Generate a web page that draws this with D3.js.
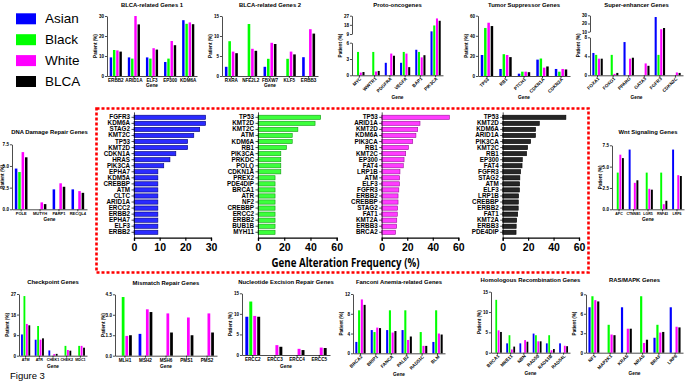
<!DOCTYPE html>
<html>
<head>
<meta charset="utf-8">
<script src="https://cdn.jsdelivr.net/npm/d3@7"></script>
<style>
body { margin: 0; background: #fff; }
svg { display: block; font-family: "Liberation Sans", Arial, sans-serif; }
</style>
</head>
<body>
<svg id="fig" width="685" height="382"></svg>
<script>
// series
var groups = ["Asian", "Black", "White", "BLCA"]
var groupColors = ["#0000ff", "#00ff00", "#ff00ff", "#000000"]

// small panels: genes + one row per group (Asian, Black, White, BLCA)
var blca1Genes = ["ERBB2", "ARID1A", "ELF3", "EP300", "KDM6A"]
var blca1Values = [[9.3, 9.3, 9.3, 7.0, 27.9], [13.0, 8.7, 8.7, 8.7, 26.1], [12.8, 30.0, 13.9, 17.5, 26.8], [12.2, 25.8, 13.2, 15.4, 25.9]]

var blca2Genes = ["RXRA", "NFE2L2", "FBXW7", "KLF5", "ERBB3"]
var blca2Values = [[2.3, 0, 2.3, 0, 4.7], [8.7, 13.0, 4.3, 4.3, 0], [6.1, 6.8, 8.3, 6.1, 11.7], [5.7, 6.3, 8.0, 5.4, 10.6]]

var protoGenes = ["MYC", "WWTR1", "PDGFRA", "VEGFA", "BAP1", "PIK3CA"]
var protoValues = [[0, 0, 2.3, 2.3, 4.7, 11.6], [4.3, 4.3, 0, 4.3, 4.3, 17.4], [0.5, 0.7, 4.0, 4.0, 3.3, 24.3], [0.6, 0.8, 3.6, 1.5, 3.7, 22.0]]

var tumorGenes = ["TP53", "RB1", "PTCH1", "CDKN1A", "CDKN2A"]
var tumorValues = [[20.9, 7.0, 2.3, 16.3, 7.0], [47.8, 21.7, 4.3, 17.4, 4.3], [53.0, 20.9, 4.3, 8.3, 7.0], [49.7, 18.8, 3.8, 9.5, 6.5]]

var superGenes = ["FOXA1", "FOXO1", "PPARG", "GATA3", "FGFR3", "CDKN2C"]
var superValues = [[4.7, 0, 7.0, 0, 27.9, 0], [4.3, 4.3, 0, 0, 4.3, 0], [3.5, 0.3, 3.5, 2.5, 13.0, 0.6], [3.5, 0.5, 3.7, 2.0, 14.5, 0.5]]

var dnaGenes = ["POLE", "MUTYH", "PARP1", "RECQL4"]
var dnaValues = [[4.7, 0, 2.3, 2.3], [4.3, 0, 0, 0], [6.6, 0.8, 3.0, 2.1], [6.0, 0.6, 2.6, 1.9]]

var wntGenes = ["APC", "CTNNB1", "LGR5", "RNF43", "LRP6"]
var wntValues = [[0, 7.0, 0, 0, 7.0], [4.3, 0, 4.3, 4.3, 0], [6.4, 3.1, 2.4, 0.6, 4.0], [6.0, 3.4, 2.3, 1.0, 3.9]]

var checkGenes = ["ATM", "ATR", "CHEK1", "CHEK2", "MDC1"]
var checkValues = [[9.3, 7.0, 2.3, 0, 0], [26.1, 13.0, 0, 4.3, 4.3], [13.9, 7.0, 0.7, 2.5, 4.3], [13.3, 7.6, 0.8, 2.2, 3.5]]

var mmrGenes = ["MLH1", "MSH2", "MSH6", "PMS1", "PMS2"]
var mmrValues = [[0, 1.6, 0, 0, 0], [4.3, 0, 0, 0, 0], [1.45, 3.4, 3.1, 2.8, 3.1], [1.5, 3.2, 1.7, 1.5, 1.7]]

var nerGenes = ["ERCC2", "ERCC3", "ERCC4", "ERCC5"]
var nerValues = [[9.3, 0, 0, 0], [13.0, 0, 0, 0], [9.5, 2.4, 1.5, 1.8], [9.3, 2.0, 1.2, 1.7]]

var fancGenes = ["BRCA2", "BRIP1", "FANCA", "PALB2", "RAD51C", "BLM"]
var fancValues = [[2.3, 4.7, 4.7, 4.7, 0, 2.3], [8.7, 4.3, 8.7, 8.7, 4.3, 8.7], [10.9, 5.2, 4.2, 2.7, 1.5, 4.0], [9.8, 5.1, 4.5, 3.4, 1.5, 3.8]]

var hrGenes = ["BRCA1", "MRE11", "NBN", "RAD50", "RAD51B", "RAD54L"]
var hrValues = [[0, 2.3, 2.3, 4.7, 2.3, 2.3], [13.0, 4.3, 0, 4.3, 4.3, 0], [5.5, 0.8, 3.1, 2.8, 0.6, 1.7], [5.1, 1.5, 2.7, 2.8, 0.9, 1.6]]

var rasGenes = ["NF1", "MAP2K1", "KRAS", "NRAS", "BRAF", "LRP6"]
var rasValues = [[7.0, 0, 7.0, 0, 2.3, 7.0], [8.7, 4.3, 0, 8.7, 4.3, 0], [8.1, 2.8, 3.7, 1.5, 3.1, 4.0], [7.9, 2.7, 3.7, 2.0, 3.2, 3.9]]

// center: top 20 altered genes per group
var asianTopGenes = ["FGFR3", "KDM6A", "STAG2", "KMT2C", "TP53", "KMT2D", "CDKN1A", "HRAS", "PIK3CA", "EPHA7", "KDM5A", "CREBBP", "ATM", "CLTC", "ARID1A", "ERCC2", "ERBB2", "EPHA7", "ELF3", "ERBB2"]
var asianTopValues = [27.9, 27.9, 25.6, 23.3, 20.9, 20.9, 16.3, 14.0, 11.6, 9.3, 9.3, 9.3, 9.3, 9.3, 9.3, 9.3, 9.3, 9.3, 9.3, 9.3]

var blackTopGenes = ["TP53", "KMT2D", "KMT2C", "ATM", "KDM6A", "RB1", "PIK3CA", "PRKDC", "POLQ", "CDKN1A", "PREX2", "PDE4DIP", "BRCA1", "ATR", "NF2", "CREBBP", "ERCC2", "ERBB2", "BUB1B", "MYH11"]
var blackTopValues = [47.8, 43.5, 30.4, 26.1, 26.1, 21.7, 17.4, 17.4, 17.4, 17.4, 13.0, 13.0, 13.0, 13.0, 13.0, 13.0, 13.0, 13.0, 13.0, 13.0]

var whiteTopGenes = ["TP53", "ARID1A", "KMT2D", "KDM6A", "PIK3CA", "RB1", "KMT2C", "EP300", "FAT4", "LRP1B", "ATM", "ELF3", "FGFR3", "ERBB2", "CREBBP", "STAG2", "FAT1", "KMT2A", "ERBB3", "BRCA2"]
var whiteTopValues = [53.0, 30.0, 28.2, 26.8, 24.3, 20.9, 18.8, 17.5, 16.9, 14.3, 14.0, 13.9, 13.4, 12.8, 12.8, 12.4, 12.2, 11.8, 11.7, 10.8]

var blcaTopGenes = ["TP53", "KMT2D", "KDM6A", "ARID1A", "PIK3CA", "KMT2C", "RB1", "EP300", "FAT4", "FGFR3", "STAG2", "ATM", "ELF3", "LRP1B", "CREBBP", "ERBB2", "FAT1", "KMT2A", "ERBB3", "PDE4DIP"]
var blcaTopValues = [49.7, 28.8, 25.9, 25.8, 22.0, 19.6, 18.8, 15.4, 15.2, 14.1, 13.5, 13.3, 13.2, 12.5, 12.3, 12.2, 11.8, 11.0, 10.6, 10.5]

var svg = d3.select("#fig")

function styleAxis(sel, size) {
    sel.attr("font-size", size).attr("font-family", null).attr("font-weight", "bold")
    sel.selectAll("path, line").attr("stroke-width", 0.7)
}

function smallPanel(p) {
    var g = svg.append("g")
    var x = d3.scaleBand().domain(d3.range(p.genes.length))
        .range([p.x0, p.x1]).paddingInner(0.33).paddingOuter(0.15)
    var xs = d3.scaleBand().domain(d3.range(4))
        .range([0, x.bandwidth()]).paddingInner(0.25)
    var y = d3.scaleLinear().domain(p.domain).range(p.range)

    var cells = []
    p.genes.forEach(function(gene, i) {
        p.values.forEach(function(row, k) {
            if (row[i] > 0) cells.push({ i: i, k: k, v: row[i] })
        })
    })
    g.selectAll("rect").data(cells).join("rect")
        .attr("x", function(d) { return x(d.i) + xs(d.k) })
        .attr("width", xs.bandwidth())
        .attr("y", function(d) { return y(d.v) })
        .attr("height", function(d) { return y(0) - y(d.v) })
        .attr("fill", function(d) { return groupColors[d.k] })

    // y axis, split in two when the scale is broken
    var segs = p.segs || [[p.domain[0], p.domain[p.domain.length - 1]]]
    segs.forEach(function(s, j) {
        var ys = d3.scaleLinear().domain(s).range([y(s[0]), y(s[1])])
        g.append("g").attr("transform", "translate(" + p.x0 + ",0)")
            .call(d3.axisLeft(ys).tickValues(p.ticks[j]).tickSize(2).tickSizeOuter(0)
                .tickPadding(1).tickFormat(p.fmt || d3.format("d")))
            .call(styleAxis, 4.6)
    })

    var xa = g.append("g").attr("transform", "translate(0," + y(0) + ")")
        .call(d3.axisBottom(x).tickSize(2).tickSizeOuter(0).tickPadding(1)
            .tickFormat(function(i) { return p.genes[i] }))
        .call(styleAxis, p.labelSize || 4.6)
    if (p.rotate) {
        xa.selectAll("text")
            .attr("text-anchor", "end")
            .attr("x", -1).attr("y", 2).attr("dy", "0.5em")
            .attr("transform", "rotate(-45)")
    }

    g.append("text").attr("x", (p.x0 + p.x1) / 2).attr("y", p.titleY)
        .attr("text-anchor", "middle").attr("font-size", 5.9).attr("font-weight", "bold")
        .text(p.title)
    g.append("text").attr("x", (p.x0 + p.x1) / 2).attr("y", p.geneY)
        .attr("text-anchor", "middle").attr("font-size", 4.8).attr("font-weight", "bold")
        .text("Gene")
    var yMid = (p.range[0] + p.range[p.range.length - 1]) / 2
    g.append("text")
        .attr("transform", "translate(" + Math.max(p.x0 - 10, 4) + "," + yMid + ") rotate(-90)")
        .attr("text-anchor", "middle").attr("font-size", 4.6).attr("font-weight", "bold")
        .text("Patient (%)")
}

function centerPanel(p) {
    var g = svg.append("g")
    var y = d3.scaleBand().domain(d3.range(p.genes.length))
        .range([111.9, 237.7]).paddingInner(0.3).paddingOuter(0.545)
    var x = d3.scaleLinear().domain([0, p.max]).range([p.x0, p.x1])
    g.selectAll("rect").data(p.values).join("rect")
        .attr("x", x(0))
        .attr("y", function(d, i) { return y(i) })
        .attr("width", function(d) { return x(d) - x(0) })
        .attr("height", y.bandwidth())
        .attr("fill", p.fill).attr("stroke", p.stroke).attr("stroke-width", 0.6)
    g.append("g").attr("transform", "translate(" + p.x0 + ",0)")
        .call(d3.axisLeft(y).tickSize(2.5).tickSizeOuter(0).tickPadding(1.5)
            .tickFormat(function(i) { return p.genes[i] }))
        .call(styleAxis, 6.3)
    g.append("g").attr("transform", "translate(0,237.7)")
        .call(d3.axisBottom(x).tickValues(p.ticks).tickSize(3).tickSizeOuter(3).tickPadding(3))
        .call(styleAxis, 10.5)
        .selectAll("path, line").attr("stroke-width", 1.2)
}

// legend
groups.forEach(function(name, k) {
    var yy = 13.3 + k * 20.9
    svg.append("rect").attr("x", 16).attr("y", yy).attr("width", 20).attr("height", 11)
        .attr("fill", groupColors[k])
    svg.append("text").attr("x", 45).attr("y", yy + 10).attr("font-size", 13.5).text(name)
})

smallPanel({ title: "BLCA-related Genes 1", genes: blca1Genes, values: blca1Values, x0: 107, x1: 197,
    domain: [0, 30], range: [76, 16], ticks: [[0, 10, 20, 30]], titleY: 7, geneY: 87 })
smallPanel({ title: "BLCA-related Genes 2", genes: blca2Genes, values: blca2Values, x0: 222, x1: 318,
    domain: [0, 15], range: [76, 16], ticks: [[0, 5, 10, 15]], titleY: 7, geneY: 87 })
smallPanel({ title: "Proto-oncogenes", genes: protoGenes, values: protoValues, x0: 352, x1: 443,
    domain: [0, 6, 9, 27], range: [75.3, 42.7, 34, 15.7], segs: [[0, 6], [9, 27]],
    ticks: [[0, 3, 6], [9, 18, 27]], rotate: true, titleY: 7, geneY: 99 })
smallPanel({ title: "Tumor Suppressor Genes", genes: tumorGenes, values: tumorValues, x0: 478, x1: 570,
    domain: [0, 60], range: [76, 15.7], ticks: [[0, 20, 40, 60]], rotate: true, titleY: 7, geneY: 99 })
smallPanel({ title: "Super-enhancer Genes", genes: superGenes, values: superValues, x0: 590, x1: 683,
    domain: [0, 8, 10, 30], range: [75.3, 37.3, 31.7, 15.3], segs: [[0, 8], [10, 30]],
    ticks: [[0, 4, 8], [10, 20, 30]], rotate: true, titleY: 7, geneY: 99 })
smallPanel({ title: "DNA Damage Repair Genes", genes: dnaGenes, values: dnaValues, x0: 12, x1: 87,
    domain: [0, 7.5], range: [209.3, 144.3], ticks: [[0, 2.5, 5, 7.5]], fmt: d3.format(".1f"),
    labelSize: 4.0, titleY: 134, geneY: 221 })
smallPanel({ title: "Wnt Signaling Genes", genes: wntGenes, values: wntValues, x0: 612, x1: 684,
    domain: [0, 7.5], range: [209.3, 145.3], ticks: [[0, 2.5, 5, 7.5]], fmt: d3.format(".1f"),
    labelSize: 3.5, titleY: 134, geneY: 221 })
smallPanel({ title: "Checkpoint Genes", genes: checkGenes, values: checkValues, x0: 19, x1: 87,
    domain: [0, 27], range: [355.7, 294], ticks: [[0, 9, 18, 27]], labelSize: 3.7, titleY: 284, geneY: 368 })
smallPanel({ title: "Mismatch Repair Genes", genes: mmrGenes, values: mmrValues, x0: 115, x1: 217,
    domain: [0, 4.5], range: [355.7, 294.3], ticks: [[0, 1.5, 3, 4.5]], fmt: d3.format(".1f"),
    titleY: 285, geneY: 368 })
smallPanel({ title: "Nucleotide Excision Repair Genes", genes: nerGenes, values: nerValues, x0: 242, x1: 330,
    domain: [0, 15], range: [355, 293.3], ticks: [[0, 5, 10, 15]], titleY: 284, geneY: 368 })
smallPanel({ title: "Fanconi Anemia-related Genes", genes: fancGenes, values: fancValues, x0: 353, x1: 445,
    domain: [0, 12], range: [353.3, 294], ticks: [[0, 4, 8, 12]], rotate: true, titleY: 284, geneY: 376 })
smallPanel({ title: "Homologous Recombination Genes", genes: hrGenes, values: hrValues, x0: 491, x1: 570,
    domain: [0, 15], range: [352.7, 291.7], ticks: [[0, 5, 10, 15]], rotate: true, titleY: 282, geneY: 375 })
smallPanel({ title: "RAS/MAPK Genes", genes: rasGenes, values: rasValues, x0: 586, x1: 683,
    domain: [0, 9], range: [352.7, 294.3], ticks: [[0, 3, 6, 9]], rotate: true, titleY: 282, geneY: 375 })

// center box
svg.append("rect").attr("x", 96.5).attr("y", 108.5).attr("width", 492).attr("height", 164)
    .attr("fill", "none").attr("stroke", "#ff0000").attr("stroke-width", 2.6)
    .attr("stroke-dasharray", "3,2")

centerPanel({ genes: asianTopGenes, values: asianTopValues, x0: 134, x1: 211, max: 30, ticks: [0, 10, 20, 30],
    fill: "#2b2bff", stroke: "#00007a" })
centerPanel({ genes: blackTopGenes, values: blackTopValues, x0: 258, x1: 336.7, max: 60, ticks: [0, 20, 40, 60],
    fill: "#3cff3c", stroke: "#159915" })
centerPanel({ genes: whiteTopGenes, values: whiteTopValues, x0: 381.7, x1: 458.3, max: 60, ticks: [0, 20, 40, 60],
    fill: "#ff3cff", stroke: "#991599" })
centerPanel({ genes: blcaTopGenes, values: blcaTopValues, x0: 502.7, x1: 579, max: 60, ticks: [0, 20, 40, 60],
    fill: "#262626", stroke: "#000000" })

svg.append("text").attr("x", 345.5).attr("y", 267).attr("text-anchor", "middle")
    .attr("font-family", "'Open Sans', sans-serif").attr("font-weight", "bold").attr("font-size", 12)
    .attr("textLength", 148).attr("lengthAdjust", "spacingAndGlyphs")
    .text("Gene Alteration Frequency (%)")

svg.append("text").attr("x", 10).attr("y", 379).attr("font-size", 9.5).text("Figure 3")
</script>
</body>
</html>
